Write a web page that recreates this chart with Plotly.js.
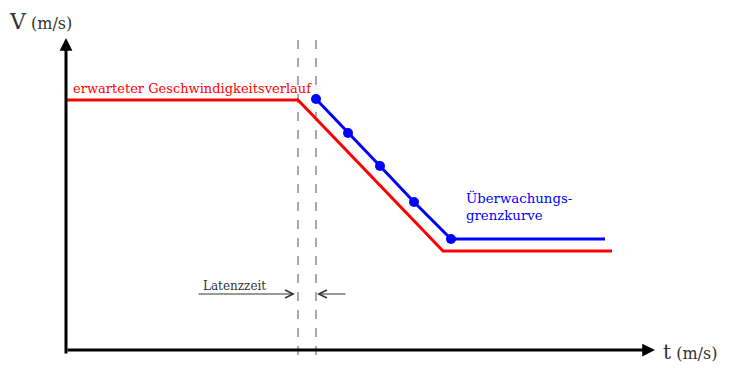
<!DOCTYPE html>
<html><head><meta charset="utf-8">
<script src="https://cdn.plot.ly/plotly-3.0.1.min.js"></script>
<style>html,body{margin:0;padding:0;background:#fff}#chart{width:729px;height:368px}</style>
</head><body><div id="chart"></div>
<script>
// Schematic data (arbitrary units: t along x, V along y)
const redT = [0, 232, 377, 546];
const redV = [250, 250, 99, 99];
const blueT = [250, 282, 314, 348, 385, 539];
const blueV = [251, 217, 184, 148, 111, 111];
const blueMarkT = [250, 282, 314, 348, 385];
const blueMarkV = [251, 217, 184, 148, 111];
const latencyStart = 232;
const latencyEnd = 250;
const tMax = 589, vMax = 312;

const serif = "DejaVu Serif, serif";

const traces = [
  {x: redT, y: redV, mode: 'lines', line: {color: '#ff0000', width: 3}, hoverinfo: 'skip', cliponaxis: false},
  {x: blueT, y: blueV, mode: 'lines', line: {color: '#0000ff', width: 3}, hoverinfo: 'skip', cliponaxis: false},
  {x: blueMarkT, y: blueMarkV, mode: 'markers', marker: {color: '#0000ff', size: 10}, hoverinfo: 'skip', cliponaxis: false}
];

const shapes = [latencyStart, latencyEnd].map(t => ({
  type: 'line', xref: 'x', yref: 'y', x0: t, x1: t, y0: -5, y1: vMax,
  line: {color: '#555', width: 1, dash: 'dash'}, layer: 'below'
}));

const annotations = [
  // axes
  {x: 0, y: vMax, ax: 0, ay: -5, xref: 'x', yref: 'y', axref: 'x', ayref: 'y', showarrow: true,
   arrowhead: 2, arrowsize: 0.85, arrowwidth: 3, arrowcolor: '#000', text: ''},
  {x: tMax, y: 0, ax: 0, ay: 0, xref: 'x', yref: 'y', axref: 'x', ayref: 'y', showarrow: true,
   arrowhead: 2, arrowsize: 0.85, arrowwidth: 3, arrowcolor: '#000', text: ''},
  // latency arrows
  {x: latencyStart - 3, y: 56, ax: 131, ay: 56, xref: 'x', yref: 'y', axref: 'x', ayref: 'y', showarrow: true,
   arrowhead: 5, arrowsize: 1.6, arrowwidth: 1, arrowcolor: '#333', text: ''},
  {x: latencyEnd + 1, y: 56, ax: 281, ay: 56, xref: 'x', yref: 'y', axref: 'x', ayref: 'y', showarrow: true,
   arrowhead: 5, arrowsize: 1.6, arrowwidth: 1, arrowcolor: '#333', text: ''},
  // texts
  {x: -59, y: 329, xref: 'x', yref: 'y', showarrow: false, xanchor: 'left', yanchor: 'middle',
   text: '<span style="font-size:22px">V</span> (m/s)', font: {family: serif, size: 16, color: '#333'}},
  {x: 595, y: -2, xref: 'x', yref: 'y', showarrow: false, xanchor: 'left', yanchor: 'middle',
   text: '<span style="font-size:20px">t</span> (m/s)', font: {family: serif, size: 16, color: '#333'}},
  {x: 5, y: 262, xref: 'x', yref: 'y', showarrow: false, xanchor: 'left', yanchor: 'middle',
   text: 'erwarteter Geschwindigkeitsverlauf', font: {family: serif, size: 13, color: '#ff0000'}},
  {x: 398, y: 144, xref: 'x', yref: 'y', showarrow: false, xanchor: 'left', yanchor: 'middle', align: 'left',
   text: 'Überwachungs-<br>grenzkurve', font: {family: serif, size: 13.3, color: '#0000ff'}},
  {x: 135, y: 64, xref: 'x', yref: 'y', showarrow: false, xanchor: 'left', yanchor: 'middle',
   text: 'Latenzzeit', font: {family: serif, size: 12, color: '#333'}}
];

const layout = {
  width: 729, height: 368,
  margin: {l: 0, r: 0, t: 0, b: 0},
  paper_bgcolor: '#fff', plot_bgcolor: '#fff',
  showlegend: false,
  xaxis: {range: [-66, 663], visible: false, fixedrange: true},
  yaxis: {range: [-18, 350], visible: false, fixedrange: true},
  shapes: shapes,
  annotations: annotations
};

Plotly.newPlot('chart', traces, layout, {displayModeBar: false, staticPlot: true});
</script></body></html>
